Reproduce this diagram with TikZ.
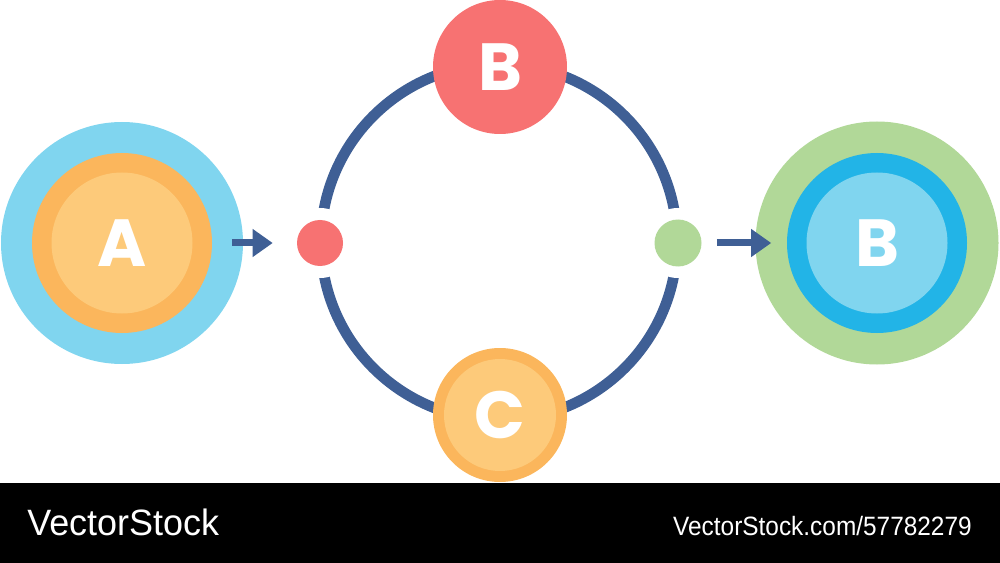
\documentclass[tikz,border=0pt]{standalone}
\usepackage{fontspec}
\setmainfont{Liberation Sans}
\newfontfamily\letterfont{Poppins}
\usetikzlibrary{arrows.meta}
\definecolor{ringblue}{HTML}{3F5F95}
\definecolor{lightblue}{HTML}{80D5EF}
\definecolor{midblue}{HTML}{22B4E7}
\definecolor{orangeA}{HTML}{FBB65C}
\definecolor{orangeB}{HTML}{FDCA7A}
\definecolor{redB}{HTML}{F77272}
\definecolor{greenC}{HTML}{B1D898}
\tikzset{
  disc/.style={circle,inner sep=0pt,minimum size=#1*1.5pt},
  letter/.style={text=white,font=\letterfont\bfseries\fontsize{50pt}{50pt}\selectfont,inner sep=0pt},
  flow/.style={ringblue,line width=5.25pt,-{Triangle[length=15pt,width=20pt]}},
  ring/.style={ringblue,line width=8pt},
  bartext/.style={text=white,inner sep=0pt,anchor=base west}
}
\begin{document}
\begin{tikzpicture}[x=0.75pt,y=-0.75pt]
\useasboundingbox (0,0) rectangle (1000,563);
% main ring
\coordinate (rc) at (499,242);
\draw[ring] (rc) circle[radius=178*0.75pt];
% left group A
\node[disc=121,fill=lightblue] (A) at (122,243) {};
\node[disc=90,fill=orangeA] (A2) at (A) {};
\node[disc=70.5,fill=orangeB] (A3) at (A) {};
\node[letter] (Al) at (A) {A};
% top B
\node[disc=67,fill=redB] (B) at (500,67) {};
\node[letter] (Bl) at (B) {B};
% bottom C
\node[disc=67,fill=orangeA] (C) at (500,415) {};
\node[disc=56,fill=orangeB] (C2) at (C) {};
\node[letter] (Cl) at (C) {C};
% small dots with white gaps
\fill[white] (320,243) circle[radius=35*0.75pt];
\fill[white] (678,243) circle[radius=35*0.75pt];
\node[disc=23,fill=redB] (in) at (320,243) {};
\node[disc=23.5,fill=greenC] (out) at (678,243) {};
% right group B
\node[disc=121.5,fill=greenC] (R) at (877,243) {};
\node[disc=90,fill=midblue] (R2) at (R) {};
\node[disc=70.5,fill=lightblue] (R3) at (R) {};
\node[letter] (Rl) at (R) {B};
% arrows
\draw[flow,shorten <=-8.25pt,shorten >=18pt] (A.east) -- (in.west |- A.east);
\draw[flow,shorten <=11.25pt,shorten >=-12pt] (out.east) -- (R.west |- out.east);
% bottom bar
\fill[black] (0,483) rectangle (1000,563);
\node[bartext] (vs) at (27,535) {\fontsize{27.5pt}{27.5pt}\selectfont\scalebox{0.98}[1]{VectorStock}};
\node[bartext,anchor=base east] (vsid) at (972,535) {\fontsize{19.9pt}{19.9pt}\selectfont\scalebox{0.92}[1]{VectorStock.com/57782279}};
\end{tikzpicture}
\end{document}
